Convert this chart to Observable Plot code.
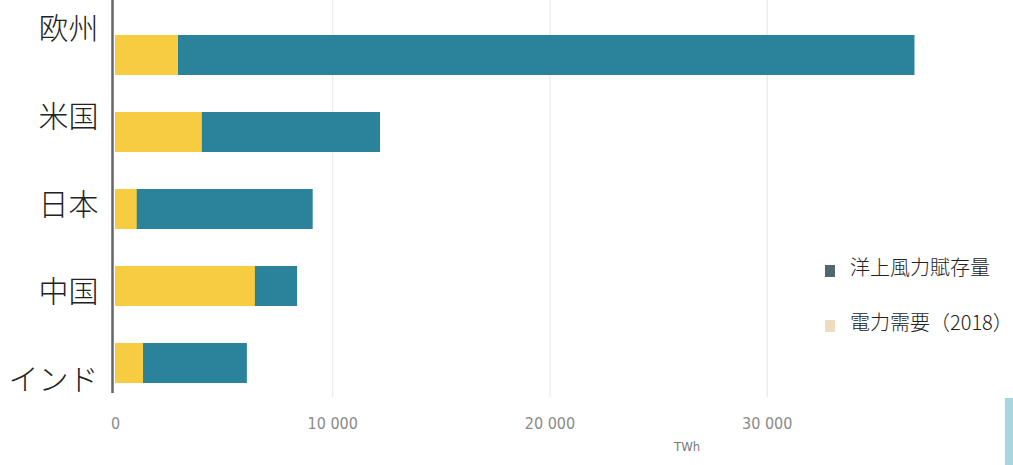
<!DOCTYPE html>
<html>
<head>
<meta charset="utf-8">
<script src="https://cdn.jsdelivr.net/npm/d3@7"></script>
<script src="https://cdn.jsdelivr.net/npm/@observablehq/plot@0.6"></script>
<style>
  html, body { margin: 0; padding: 0; background: #fff; }
  #wrap { position: relative; width: 1013px; height: 465px; overflow: hidden; font-family: "Noto Sans CJK JP", "Noto Sans", sans-serif; }
  .legend { position: absolute; left: 825px; font-size: 20px; line-height: 28px; color: #222; display: flex; align-items: center; white-space: nowrap; font-weight: 300; }
  .sw { width: 10px; height: 12px; margin-right: 15px; margin-top: 8px; }
  .unit { position: absolute; left: 674px; top: 439px; font-size: 13px; color: #777; font-family: "DejaVu Sans Condensed", "DejaVu Sans", sans-serif; }
  .edge { position: absolute; left: 1005px; top: 398px; width: 8px; height: 67px; background: #a9d6de; }
  svg g[aria-label="y-axis tick label"] text { font-weight: 300; }
</style>
</head>
<body>
<div id="wrap"></div>
<script>
const regions = ["欧州", "米国", "日本", "中国", "インド"];
const potential = [36800, 12200, 9100, 8380, 6070];   // 洋上風力賦存量 (TWh)
const demand = [2900, 4000, 1000, 6440, 1290];        // 電力需要（2018） (TWh)
const xTicks = [0, 10000, 20000, 30000];
const seriesNames = ["洋上風力賦存量", "電力需要（2018）"];
const blue = "#2a839b";
const yellow = "#f8cc40";

const rows = regions.map((r, i) => ({region: r, potential: potential[i], demand: demand[i]}));

const chart = Plot.plot({
  width: 1013,
  height: 465,
  marginLeft: 115,
  marginRight: 29,
  marginTop: 0,
  marginBottom: 48,
  style: {fontFamily: "'Noto Sans CJK JP', sans-serif", background: "transparent"},
  x: {domain: [0, 40000]},
  y: {domain: regions, paddingInner: 0.487, paddingOuter: 0.423},
  marks: [
    Plot.gridX(xTicks.slice(1), {stroke: "#ccc", strokeOpacity: 0.5, insetBottom: 20}),
    Plot.barX(rows, {y: "region", x: "potential", fill: blue}),
    Plot.barX(rows, {y: "region", x: "demand", fill: yellow}),
    Plot.ruleX([0], {stroke: "#666", strokeWidth: 2.5, dx: -3, insetBottom: 24}),
    Plot.axisY({tickSize: 0, tickPadding: 17, fontSize: 30, fill: "#222", label: null}),
    Plot.axisX(xTicks, {tickSize: 0, tickPadding: 0, fontSize: 16, fill: "#8a8a8a", label: null,
      fontFamily: "'DejaVu Sans Condensed', sans-serif",
      tickFormat: d => d3.format(",")(d).replace(/,/g, " ")})
  ]
});

// The category labels in the source are spread slightly wider than the bars.
d3.select(chart).selectAll('g[aria-label="y-axis tick label"] text')
  .attr("y", (d, i, nodes) => (i - (nodes.length - 1) / 2) * 10.7 + 5);

const wrap = document.getElementById("wrap");
wrap.appendChild(chart);

const colors = ["#506770", "#efdcc0"];
const tops = [253, 308];
seriesNames.forEach((name, i) => {
  const d = document.createElement("div");
  d.className = "legend";
  d.style.top = tops[i] + "px";
  const sw = document.createElement("span");
  sw.className = "sw";
  sw.style.background = colors[i];
  const t = document.createElement("span");
  t.textContent = name;
  d.appendChild(sw); d.appendChild(t);
  wrap.appendChild(d);
});
const u = document.createElement("div");
u.className = "unit"; u.textContent = "TWh";
wrap.appendChild(u);
const e = document.createElement("div");
e.className = "edge";
wrap.appendChild(e);
</script>
</body>
</html>
